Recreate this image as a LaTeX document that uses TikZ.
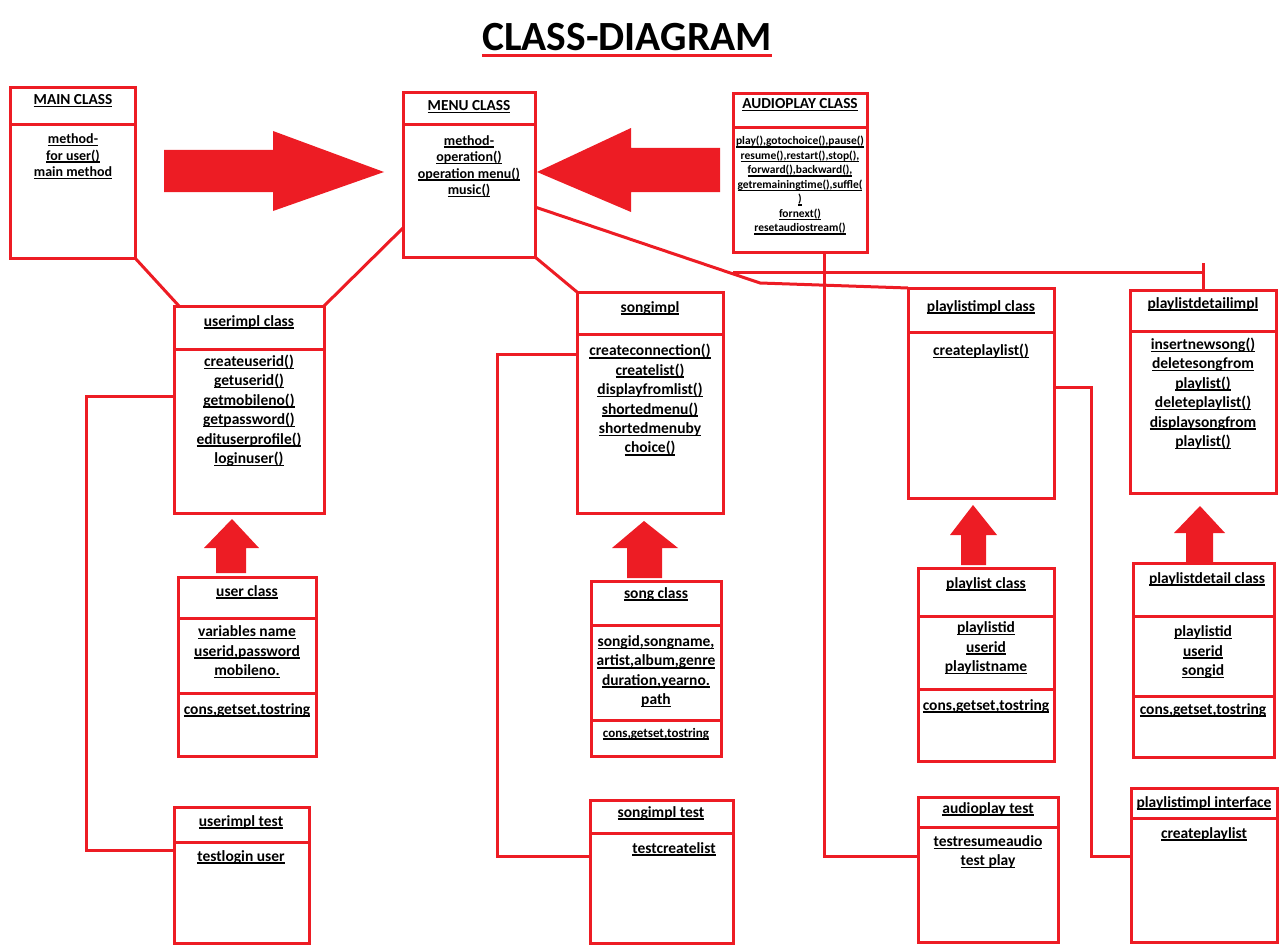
\documentclass[tikz,border=0pt]{standalone}
\usepackage{fontspec}
\setmainfont{Carlito}
\usetikzlibrary{fit}
\definecolor{paintred}{RGB}{237,28,36}
\newsavebox\ulbox
\newcommand\ul[1]{\sbox\ulbox{#1}\rlap{\rule[-2.6pt]{\wd\ulbox}{1.5pt}}\usebox\ulbox}
\tikzset{
  cls/.style={draw=paintred, line width=3pt, inner sep=0pt, outer sep=0pt},
  txt/.style={align=center, inner sep=0pt, font=\fontsize{15.5}{19.4}\selectfont\bfseries},
  hdr/.style={align=center, inner sep=0pt, font=\fontsize{15.3}{16.5}\selectfont\bfseries},
  sml/.style={align=center, inner sep=0pt, font=\fontsize{14}{16.5}\selectfont\bfseries},
  tny/.style={align=center, inner sep=0pt, font=\fontsize{11.5}{14.5}\selectfont\bfseries},
  link/.style={draw=paintred, line width=3pt},
  blk/.style={fill=paintred}
}
\begin{document}
\begin{tikzpicture}[x=1pt,y=-1pt]
    \useasboundingbox (0,0) rectangle (1280,947);
    \node [inner sep=0pt, font=\fontsize{41.5}{41.5}\selectfont\bfseries] (title) at (627,37) {CLASS-DIAGRAM};
    \draw [link] ([yshift=-5pt]title.base west) -- ([yshift=-5pt]title.base east);
    % class boxes
    \node [cls, fit={(10,88) (135,258)}] (main) {};
    \node [cls, fit={(403,93) (535,257)}] (menu) {};
    \node [cls, fit={(733,94) (867,252)}] (audio) {};
    \node [cls, fit={(174,306) (324,513)}] (uimpl) {};
    \node [cls, fit={(577,292) (723,513)}] (simpl) {};
    \node [cls, fit={(908,288) (1054,498)}] (pimpl) {};
    \node [cls, fit={(1130,290) (1276,493)}] (pdimpl) {};
    \node [cls, fit={(178,577) (316,756)}] (ucls) {};
    \node [cls, fit={(591,581) (721,756)}] (scls) {};
    \node [cls, fit={(918,568) (1054,761)}] (pcls) {};
    \node [cls, fit={(1133,563) (1274,757)}] (pdcls) {};
    \node [cls, fit={(174,807) (309,943)}] (utest) {};
    \node [cls, fit={(590,800) (733,943)}] (stest) {};
    \node [cls, fit={(918,797) (1058,942)}] (atest) {};
    \node [cls, fit={(1131,788) (1277,942)}] (pinter) {};
    % compartments
    \draw [link] (10,125) -- (135,125);
    \draw [link] (403,125) -- (535,125);
    \draw [link] (733,128) -- (867,128);
    \draw [link] (174,349) -- (324,349);
    \draw [link] (577,334) -- (723,334);
    \draw [link] (908,332) -- (1054,332);
    \draw [link] (1130,331) -- (1276,331);
    \draw [link] (178,618) -- (316,618);
    \draw [link] (178,693) -- (316,693);
    \draw [link] (591,625) -- (721,625);
    \draw [link] (591,720) -- (721,720);
    \draw [link] (918,616) -- (1054,616);
    \draw [link] (918,689) -- (1054,689);
    \draw [link] (1133,616) -- (1274,616);
    \draw [link] (1133,696) -- (1274,696);
    \draw [link] (174,842) -- (309,842);
    \draw [link] (590,833) -- (733,833);
    \draw [link] (918,827) -- (1058,827);
    \draw [link] (1131,818) -- (1277,818);
    % texts
    \node [hdr] (maint) at (73,101) {\ul{MAIN CLASS}};
    \node [sml] (mainb) at (73,156.5) {\ul{method-}\\\ul{for user()}\\\ul{main method}};
    \node [hdr] (menut) at (469,107) {\ul{MENU CLASS}};
    \node [sml] (menub) at (469,166.5) {\ul{method-}\\\ul{operation()}\\\ul{operation menu()}\\\ul{music()}};
    \node [hdr] (audiot) at (800,105) {\ul{AUDIOPLAY CLASS}};
    \node [tny] (audiob) at (800,185.5) {\ul{play(),gotochoice(),pause()}\\\ul{resume(),restart(),stop(),}\\\ul{forward(),backward(),}\\\ul{getremainingtime(),suffle(}\\\ul{)}\\\ul{fornext()}\\\ul{resetaudiostream()}};
    \node [txt] (uimplt) at (249,322) {\ul{userimpl class}};
    \node [txt] (uimplb) at (249,410.5) {\ul{createuserid()}\\\ul{getuserid()}\\\ul{getmobileno()}\\\ul{getpassword()}\\\ul{edituserprofile()}\\\ul{loginuser()}};
    \node [txt] (simplt) at (650,308) {\ul{songimpl}};
    \node [txt] (simplb) at (650,400) {\ul{createconnection()}\\\ul{createlist()}\\\ul{displayfromlist()}\\\ul{shortedmenu()}\\\ul{shortedmenuby}\\\ul{choice()}};
    \node [txt] (pimplt) at (981,307) {\ul{playlistimpl class}};
    \node [txt] (pimplb) at (981,351) {\ul{createplaylist()}};
    \node [txt] (pdimplt) at (1203,304) {\ul{playlistdetailimpl}};
    \node [txt] (pdimplb) at (1203,393.5) {\ul{insertnewsong()}\\\ul{deletesongfrom}\\\ul{playlist()}\\\ul{deleteplaylist()}\\\ul{displaysongfrom}\\\ul{playlist()}};
    \node [txt] (uclst) at (247,592) {\ul{user class}};
    \node [txt] (uclsa) at (247,652) {\ul{variables name}\\\ul{userid,password}\\\ul{mobileno.}};
    \node [txt] (uclsm) at (247,710) {\ul{cons,getset,tostring}};
    \node [txt] (sclst) at (656,594) {\ul{song class}};
    \node [txt] (sclsa) at (656,671.5) {\ul{songid,songname,}\\\ul{artist,album,genre}\\\ul{duration,yearno.}\\\ul{path}};
    \node [txt, font=\fontsize{13}{14}\selectfont\bfseries] (sclsm) at (656,734) {\ul{cons,getset,tostring}};
    \node [txt] (pclst) at (986,584) {\ul{playlist class}};
    \node [txt] (pclsa) at (986,648) {\ul{playlistid}\\\ul{userid}\\\ul{playlistname}};
    \node [txt] (pclsm) at (986,706) {\ul{cons,getset,tostring}};
    \node [txt] (pdclst) at (1207,579) {\ul{playlistdetail class}};
    \node [txt] (pdclsa) at (1203,652) {\ul{playlistid}\\\ul{userid}\\\ul{songid}};
    \node [txt] (pdclsm) at (1203,710) {\ul{cons,getset,tostring}};
    \node [txt] (utestt) at (241,822) {\ul{userimpl test}};
    \node [txt] (utestb) at (241,857) {\ul{testlogin user}};
    \node [txt] (stestt) at (661,813) {\ul{songimpl test}};
    \node [txt] (stestb) at (674,849) {\ul{testcreatelist}};
    \node [txt] (atestt) at (988,809) {\ul{audioplay test}};
    \node [txt] (atestb) at (988,852) {\ul{testresumeaudio}\\\ul{test play}};
    \node [txt] (pintert) at (1204,803) {\ul{playlistimpl interface}};
    \node [txt] (pinterb) at (1204,834) {\ul{createplaylist}};
    % block arrows
    \fill [blk] (164,150) -- (273,150) -- (273,131) -- (384,172) -- (273,211) -- (273,192) -- (164,192) -- cycle;
    \fill [blk] (720,148) -- (631,148) -- (631,128) -- (537,172) -- (631,212) -- (631,192) -- (720,192) -- cycle;
    \fill [blk] (216,573) -- (216,548) -- (204,548) -- (232,519) -- (259,548) -- (246,548) -- (246,573) -- cycle;
    \fill [blk] (627,578) -- (627,548) -- (612,548) -- (644,521) -- (678,548) -- (662,548) -- (662,578) -- cycle;
    \fill [blk] (961,565) -- (961,535) -- (950,535) -- (973,505) -- (997,535) -- (986,535) -- (986,565) -- cycle;
    \fill [blk] (1186,563) -- (1186,533) -- (1174,533) -- (1200,506) -- (1225,533) -- (1213,533) -- (1213,563) -- cycle;
    % connectors
    \draw [link] (main.south east) -- ([xshift=5pt]uimpl.north west);
    \draw [link] ([yshift=-53pt]menu.west) -- (uimpl.north east);
    \draw [link] (menu.south east) -- (simpl.north west);
    \draw [link] ([yshift=-32pt]menu.east) -- (760,283) -- (pimpl.north west);
    \coordinate (bus) at (733,272);
    \draw [link] (bus) -- (bus -| pdimpl.north);
    \draw [link] ([yshift=9pt]bus -| pdimpl.north) -- (pdimpl.north);
    \draw [link] ([xshift=24pt]audio.south) |- ([yshift=13.5pt]atest.west);
    \draw [link] ([yshift=13.5pt]uimpl.west) -- ++(-88,0) |- ([yshift=25pt]utest.west);
    \draw [link] ([yshift=48.5pt]simpl.west) -- ++(-80,0) |- ([yshift=15.5pt]stest.west);
    \draw [link] ([yshift=6pt]pimpl.east) -- ++(37,0) |- ([yshift=9pt]pinter.west);
\end{tikzpicture}
\end{document}
